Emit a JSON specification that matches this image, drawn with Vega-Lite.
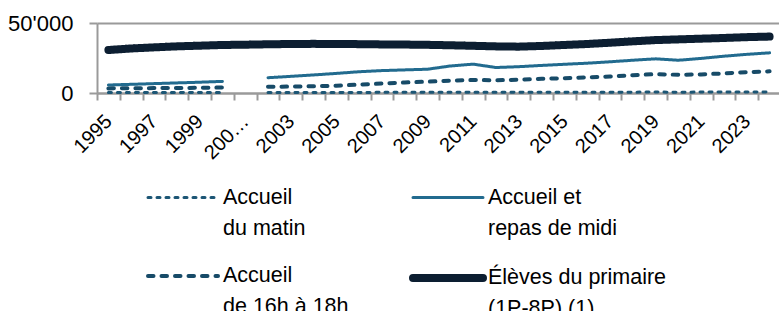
{
  "$schema": "https://vega.github.io/schema/vega-lite/v6.json",
  "width": 684,
  "height": 70,
  "autosize": {"type": "none"},
  "padding": {"left": 97, "top": 23, "right": 0, "bottom": 218},
  "background": "white",
  "config": {"view": {"stroke": null}, "font": "Liberation Sans"},
  "data": {"values": [
    {"year": 1995, "Accueil du matin": 300, "Accueil et repas de midi": 5700, "Accueil de 16h à 18h": 3300, "Élèves du primaire (1P-8P) (1)": 30700},
    {"year": 1996, "Accueil du matin": 300, "Accueil et repas de midi": 6200, "Accueil de 16h à 18h": 3400, "Élèves du primaire (1P-8P) (1)": 31800},
    {"year": 1997, "Accueil du matin": 350, "Accueil et repas de midi": 6700, "Accueil de 16h à 18h": 3500, "Élèves du primaire (1P-8P) (1)": 32600},
    {"year": 1998, "Accueil du matin": 350, "Accueil et repas de midi": 7200, "Accueil de 16h à 18h": 3600, "Élèves du primaire (1P-8P) (1)": 33300},
    {"year": 1999, "Accueil du matin": 400, "Accueil et repas de midi": 7700, "Accueil de 16h à 18h": 3700, "Élèves du primaire (1P-8P) (1)": 33800},
    {"year": 2000, "Accueil du matin": 400, "Accueil et repas de midi": 8300, "Accueil de 16h à 18h": 3900, "Élèves du primaire (1P-8P) (1)": 34300},
    {"year": 2001, "Accueil du matin": null, "Accueil et repas de midi": null, "Accueil de 16h à 18h": null, "Élèves du primaire (1P-8P) (1)": 34500},
    {"year": 2002, "Accueil du matin": 400, "Accueil et repas de midi": 10900, "Accueil de 16h à 18h": 4400, "Élèves du primaire (1P-8P) (1)": 34800},
    {"year": 2003, "Accueil du matin": 400, "Accueil et repas de midi": 11900, "Accueil de 16h à 18h": 4600, "Élèves du primaire (1P-8P) (1)": 35000},
    {"year": 2004, "Accueil du matin": 420, "Accueil et repas de midi": 12900, "Accueil de 16h à 18h": 4800, "Élèves du primaire (1P-8P) (1)": 35100},
    {"year": 2005, "Accueil du matin": 420, "Accueil et repas de midi": 14000, "Accueil de 16h à 18h": 5200, "Élèves du primaire (1P-8P) (1)": 35000},
    {"year": 2006, "Accueil du matin": 440, "Accueil et repas de midi": 15200, "Accueil de 16h à 18h": 6000, "Élèves du primaire (1P-8P) (1)": 34900},
    {"year": 2007, "Accueil du matin": 450, "Accueil et repas de midi": 16000, "Accueil de 16h à 18h": 6800, "Élèves du primaire (1P-8P) (1)": 34700},
    {"year": 2008, "Accueil du matin": 460, "Accueil et repas de midi": 16500, "Accueil de 16h à 18h": 7500, "Élèves du primaire (1P-8P) (1)": 34600},
    {"year": 2009, "Accueil du matin": 470, "Accueil et repas de midi": 17000, "Accueil de 16h à 18h": 8100, "Élèves du primaire (1P-8P) (1)": 34400},
    {"year": 2010, "Accueil du matin": 480, "Accueil et repas de midi": 19300, "Accueil de 16h à 18h": 8800, "Élèves du primaire (1P-8P) (1)": 34100},
    {"year": 2011, "Accueil du matin": 500, "Accueil et repas de midi": 20600, "Accueil de 16h à 18h": 9300, "Élèves du primaire (1P-8P) (1)": 33700},
    {"year": 2012, "Accueil du matin": 500, "Accueil et repas de midi": 18200, "Accueil de 16h à 18h": 9100, "Élèves du primaire (1P-8P) (1)": 33300},
    {"year": 2013, "Accueil du matin": 520, "Accueil et repas de midi": 18800, "Accueil de 16h à 18h": 9500, "Élèves du primaire (1P-8P) (1)": 33100},
    {"year": 2014, "Accueil du matin": 540, "Accueil et repas de midi": 19700, "Accueil de 16h à 18h": 10100, "Élèves du primaire (1P-8P) (1)": 33600},
    {"year": 2015, "Accueil du matin": 560, "Accueil et repas de midi": 20500, "Accueil de 16h à 18h": 10600, "Élèves du primaire (1P-8P) (1)": 34300},
    {"year": 2016, "Accueil du matin": 580, "Accueil et repas de midi": 21300, "Accueil de 16h à 18h": 11200, "Élèves du primaire (1P-8P) (1)": 35000},
    {"year": 2017, "Accueil du matin": 600, "Accueil et repas de midi": 22300, "Accueil de 16h à 18h": 11800, "Élèves du primaire (1P-8P) (1)": 35900},
    {"year": 2018, "Accueil du matin": 620, "Accueil et repas de midi": 23400, "Accueil de 16h à 18h": 12700, "Élèves du primaire (1P-8P) (1)": 36900},
    {"year": 2019, "Accueil du matin": 640, "Accueil et repas de midi": 24400, "Accueil de 16h à 18h": 13500, "Élèves du primaire (1P-8P) (1)": 37800},
    {"year": 2020, "Accueil du matin": 600, "Accueil et repas de midi": 23400, "Accueil de 16h à 18h": 13000, "Élèves du primaire (1P-8P) (1)": 38300},
    {"year": 2021, "Accueil du matin": 640, "Accueil et repas de midi": 24700, "Accueil de 16h à 18h": 13300, "Élèves du primaire (1P-8P) (1)": 38800},
    {"year": 2022, "Accueil du matin": 680, "Accueil et repas de midi": 26300, "Accueil de 16h à 18h": 14000, "Élèves du primaire (1P-8P) (1)": 39300},
    {"year": 2023, "Accueil du matin": 700, "Accueil et repas de midi": 27600, "Accueil de 16h à 18h": 14900, "Élèves du primaire (1P-8P) (1)": 39900},
    {"year": 2024, "Accueil du matin": 720, "Accueil et repas de midi": 28700, "Accueil de 16h à 18h": 15500, "Élèves du primaire (1P-8P) (1)": 40300}
  ]},
  "transform": [
    {"fold": ["Accueil du matin", "Accueil et repas de midi", "Accueil de 16h à 18h", "Élèves du primaire (1P-8P) (1)"], "as": ["series", "value"]}
  ],
  "mark": {"type": "line", "invalid": "break-paths-show-domains", "strokeCap": "round", "strokeJoin": "round"},
  "encoding": {
    "x": {
      "field": "year", "type": "ordinal", "bandPosition": 0.5,
      "scale": {"type": "band", "paddingInner": 0, "paddingOuter": 0},
      "axis": {
        "title": null, "tickBand": "extent", "labelAngle": -45, "labelAlign": "right", "labelBaseline": "middle",
        "labelExpr": "datum.value == 2001 ? '200…' : (datum.value % 2 == 1 ? datum.label : '')",
        "labelFontSize": 20, "labelColor": "#000000", "labelPadding": 18, "labelOverlap": false, "labelBound": false,
        "domainColor": "#9a9a9a", "domainWidth": 2, "tickColor": "#9a9a9a", "tickWidth": 2, "tickSize": 7, "grid": false
      }
    },
    "y": {
      "field": "value", "type": "quantitative",
      "scale": {"domain": [0, 50000], "nice": false},
      "axis": {
        "title": null, "values": [0, 50000],
        "labelExpr": "replace(format(datum.value, ','), ',', \"'\")",
        "labelFontSize": 22, "labelColor": "#000000", "labelPadding": 16,
        "domainColor": "#9a9a9a", "domainWidth": 2, "tickColor": "#9a9a9a", "tickWidth": 2, "tickSize": 8,
        "grid": true, "gridColor": "#9a9a9a", "gridWidth": 2
      }
    },
    "color": {
      "field": "series", "type": "nominal",
      "scale": {"domain": ["Accueil du matin", "Accueil de 16h à 18h", "Accueil et repas de midi", "Élèves du primaire (1P-8P) (1)"],
                "range": ["#1c5675", "#174b68", "#226b8f", "#0c1e31"]},
      "legend": {
        "title": null, "orient": "none", "legendX": 47, "legendY": 138, "columns": 2, "columnPadding": 48, "rowPadding": 0,
        "padding": 0, "symbolType": "stroke", "symbolSize": 4900, "labelFontSize": 21.5, "labelColor": "#000000",
        "labelOffset": 1, "labelLimit": 400, "labelBaseline": "middle",
        "labelExpr": "datum.label == 'Accueil du matin' ? ['Accueil', 'du matin'] : datum.label == 'Accueil et repas de midi' ? ['Accueil et', 'repas de midi'] : datum.label == 'Accueil de 16h à 18h' ? ['Accueil', 'de 16h à 18h'] : ['Élèves du primaire', '(1P-8P) (1)']",
        "encoding": {"labels": {"lineHeight": {"value": 31}}, "symbols": {"strokeCap": {"value": "round"}}}
      }
    },
    "strokeDash": {
      "field": "series", "type": "nominal",
      "scale": {"domain": ["Accueil du matin", "Accueil de 16h à 18h", "Accueil et repas de midi", "Élèves du primaire (1P-8P) (1)"],
                "range": [[3, 6], [5.5, 8], [1, 0], [1, 0]]},
      "legend": {
        "title": null, "orient": "none", "legendX": 47, "legendY": 138, "columns": 2, "columnPadding": 48, "rowPadding": 0,
        "padding": 0, "symbolType": "stroke", "symbolSize": 4900, "labelFontSize": 21.5, "labelColor": "#000000",
        "labelOffset": 1, "labelLimit": 400, "labelBaseline": "middle",
        "labelExpr": "datum.label == 'Accueil du matin' ? ['Accueil', 'du matin'] : datum.label == 'Accueil et repas de midi' ? ['Accueil et', 'repas de midi'] : datum.label == 'Accueil de 16h à 18h' ? ['Accueil', 'de 16h à 18h'] : ['Élèves du primaire', '(1P-8P) (1)']",
        "encoding": {"labels": {"lineHeight": {"value": 31}}, "symbols": {"strokeCap": {"value": "round"}}}
      }
    },
    "strokeWidth": {
      "field": "series", "type": "ordinal",
      "scale": {"type": "ordinal", "domain": ["Accueil du matin", "Accueil de 16h à 18h", "Accueil et repas de midi", "Élèves du primaire (1P-8P) (1)"],
                "range": [3, 4, 3, 8]},
      "legend": {
        "title": null, "orient": "none", "legendX": 47, "legendY": 138, "columns": 2, "columnPadding": 48, "rowPadding": 0,
        "padding": 0, "symbolType": "stroke", "symbolSize": 4900, "labelFontSize": 21.5, "labelColor": "#000000",
        "labelOffset": 1, "labelLimit": 400, "labelBaseline": "middle",
        "labelExpr": "datum.label == 'Accueil du matin' ? ['Accueil', 'du matin'] : datum.label == 'Accueil et repas de midi' ? ['Accueil et', 'repas de midi'] : datum.label == 'Accueil de 16h à 18h' ? ['Accueil', 'de 16h à 18h'] : ['Élèves du primaire', '(1P-8P) (1)']",
        "encoding": {"labels": {"lineHeight": {"value": 31}}, "symbols": {"strokeCap": {"value": "round"}}}
      }
    }
  }
}
